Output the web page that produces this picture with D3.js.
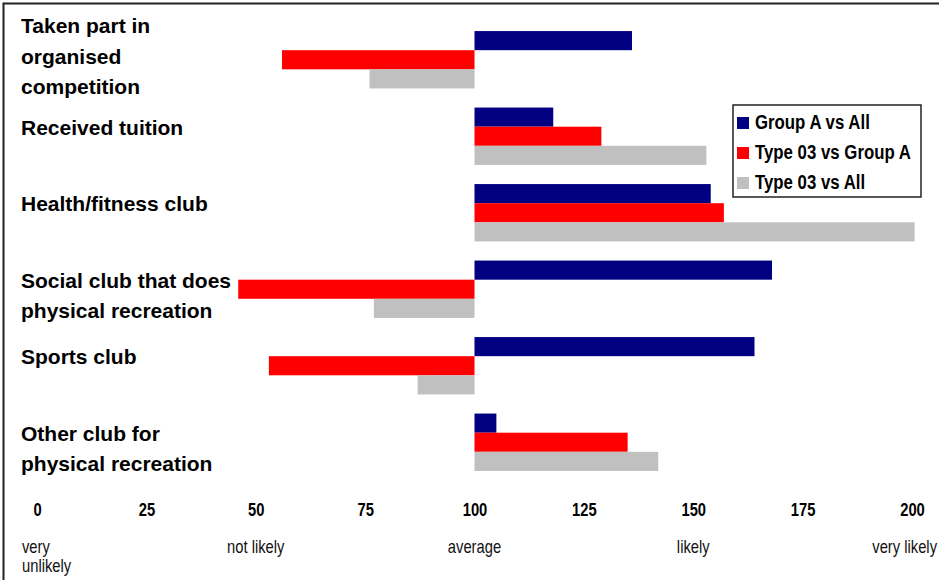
<!DOCTYPE html>
<html>
<head>
<meta charset="utf-8">
<script src="https://cdn.jsdelivr.net/npm/d3@7"></script>
<style>
  body { margin: 0; background: #fff; }
  svg { display: block; }
</style>
</head>
<body>
<div id="chart"></div>
<script>
const categories = [
  "Taken part in\norganised\ncompetition",
  "Received tuition",
  "Health/fitness club",
  "Social club that does\nphysical recreation",
  "Sports club",
  "Other club for\nphysical recreation"
];
const seriesNames = ["Group A vs All", "Type 03 vs Group A", "Type 03 vs All"];
const groupAvsAll    = [136, 118, 154, 168, 164, 105];
const type03vsGroupA = [56, 129, 157, 46, 53, 135];
const type03vsAll    = [76, 153, 200.6, 77, 87, 142];
const tickValues = [0, 25, 50, 75, 100, 125, 150, 175, 200];
const likelihoodLabels = ["very\nunlikely", "not likely", "average", "likely", "very likely"];
const likelihoodValues = [0, 50, 100, 150, 200];
const baseline = 100;

const colors = ["#000080", "#ff0000", "#c0c0c0"];
const width = 939, height = 580;
const wide = "'Liberation Sans', Arial, sans-serif";
const narrow = "'Liberation Sans Narrow', 'Arial Narrow', 'Liberation Sans', sans-serif";

const svg = d3.select("#chart").append("svg")
  .attr("width", width)
  .attr("height", height);

// is a narrow face really installed? if not, squeeze the normal one
const probe = svg.append("text").style("font-family", narrow).style("font-size", "18px").text("not likely average");
const probeW = svg.append("text").style("font-family", wide).style("font-size", "18px").text("not likely average");
const hasNarrow = probe.node().getComputedTextLength() / probeW.node().getComputedTextLength() < 0.9;
probe.remove(); probeW.remove();

function condense(sel) {
  sel.style("font-family", narrow);
  if (hasNarrow) return;
  sel.each(function() {
    const X = +this.getAttribute("x") || 0;
    d3.select(this).attr("transform", `translate(${X},0) scale(0.82,1) translate(${-X},0)`);
  });
}

// frame (only top and left edges show)
svg.append("path")
  .attr("d", `M3.5,${height} V3.5 H${width}`)
  .attr("fill", "none")
  .attr("stroke", "#222")
  .attr("stroke-width", 2);

const x = d3.scaleLinear().domain([0, 200]).range([37, 912]);
const y = d3.scaleBand().domain(categories).range([21.5, 480.5]).paddingInner(0.25).paddingOuter(0.125);
const sub = d3.scaleBand().domain(seriesNames).range([0, y.bandwidth()]);

const series = [groupAvsAll, type03vsGroupA, type03vsAll];

// --- bars ---
series.forEach((vals, s) => {
  svg.append("g")
    .selectAll("rect")
    .data(vals)
    .join("rect")
    .attr("x", d => Math.min(x(d), x(baseline)))
    .attr("width", d => Math.abs(x(d) - x(baseline)))
    .attr("y", (d, i) => y(categories[i]) + sub(seriesNames[s]))
    .attr("height", sub.bandwidth())
    .attr("fill", colors[s]);
});

// --- category labels ---
categories.forEach(c => {
  const lines = c.split("\n");
  const first = y(c) + 27 - (lines.length > 2 ? 25 : 0);
  const t = svg.append("text")
    .attr("x", 21)
    .attr("y", first)
    .style("font-family", wide)
    .style("font-size", "21px")
    .style("font-weight", "bold")
    .attr("fill", "#000");
  lines.forEach((l, i) => {
    t.append("tspan").attr("x", 21).attr("y", first + i * 30.5).text(l);
  });
});

// --- value axis ---
const axis = svg.append("g")
  .attr("transform", "translate(0,503)")
  .call(d3.axisBottom(x).tickValues(tickValues).tickSize(0).tickPadding(0));
axis.select(".domain").remove();
axis.selectAll("text")
  .attr("dy", "0.71em")
  .attr("fill", "#000")
  .style("font-size", "18px")
  .style("font-weight", "bold")
  .call(condense);

// --- likelihood captions ---
likelihoodLabels.forEach((lab, i) => {
  const lines = lab.split("\n");
  const leftAligned = lines.length > 1;
  lines.forEach((l, j) => {
    const t = svg.append("text")
      .attr("x", leftAligned ? 22 : x(likelihoodValues[i]))
      .attr("y", 553 + j * 19)
      .attr("text-anchor", leftAligned ? "start" : "middle")
      .style("font-size", "18px")
      .attr("fill", "#111")
      .text(l)
      .call(condense);
    // keep the last caption inside the right edge
    const r = t.node().getBoundingClientRect();
    if (r.right > width - 2) {
      t.attr("text-anchor", "end").attr("x", width - 2).call(condense);
    }
  });
});

// --- legend ---
const legend = svg.append("g").attr("transform", "translate(733,105)");
legend.append("rect")
  .attr("width", 188)
  .attr("height", 92)
  .attr("fill", "#fff")
  .attr("stroke", "#222")
  .attr("stroke-width", 1.5);
seriesNames.forEach((name, i) => {
  const row = legend.append("g").attr("transform", `translate(0,${12 + i * 30})`);
  row.append("rect")
    .attr("x", 4)
    .attr("width", 12)
    .attr("height", 12)
    .attr("fill", colors[i]);
  row.append("text")
    .attr("x", 22)
    .attr("y", 12)
    .style("font-size", "20.5px")
    .style("font-weight", "bold")
    .attr("fill", "#000")
    .text(name)
    .call(condense);
});
</script>
</body>
</html>
